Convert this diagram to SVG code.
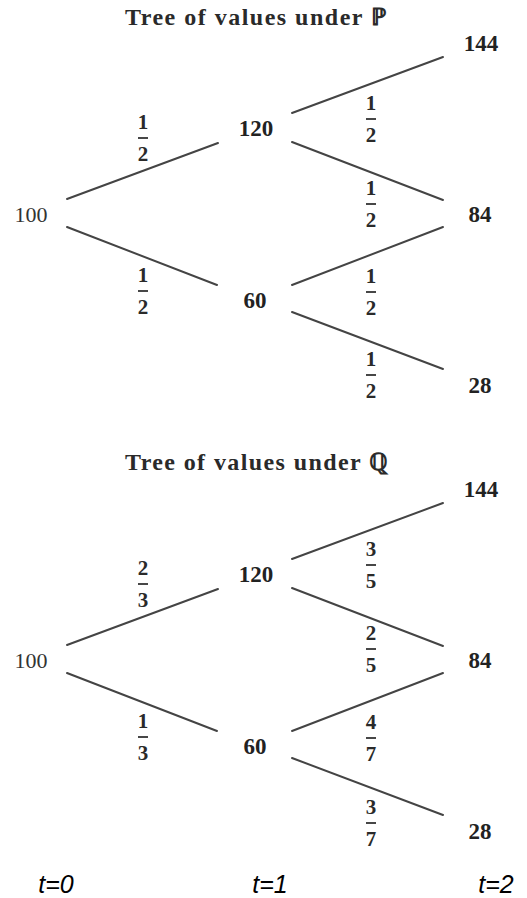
<svg xmlns="http://www.w3.org/2000/svg" width="527" height="898" viewBox="0 0 527 898">
<style>
.title{font-family:"Liberation Serif","DejaVu Serif",serif;font-weight:bold;font-size:24px;fill:#2a2a2a}
.node{font-family:"Liberation Serif","DejaVu Serif",serif;font-weight:bold;font-size:23px;fill:#222;text-anchor:middle}
.root{font-family:"Liberation Serif","DejaVu Serif",serif;font-size:22px;fill:#333;text-anchor:middle}
.frac{font-family:"Liberation Serif","DejaVu Serif",serif;font-weight:bold;font-size:21px;fill:#2a2a2a;text-anchor:middle}
.bar{stroke:#333;stroke-width:1.8}
.edge{stroke:#444;stroke-width:2;stroke-linecap:round;fill:none}
.time{font-family:"Liberation Sans","DejaVu Sans",sans-serif;font-style:italic;font-size:25px;fill:#000;text-anchor:middle}
</style>
<defs>
<g id="half">
<text class="frac" x="0" y="-9">1</text>
<line class="bar" x1="-5" y1="0" x2="5" y2="0"/>
<text class="frac" x="0" y="23">2</text>
</g>
</defs>

<g id="title-p"><text class="title" x="125" y="25" textLength="262" lengthAdjust="spacing">Tree of values under ℙ</text></g>
<g id="title-q"><text class="title" x="125" y="470" textLength="263" lengthAdjust="spacing">Tree of values under ℚ</text></g>

<g id="connectors">
<line class="edge" x1="67" y1="199" x2="218" y2="143"/>
<line class="edge" x1="67" y1="227" x2="217" y2="285"/>
<line class="edge" x1="292" y1="113" x2="443" y2="57"/>
<line class="edge" x1="292" y1="142" x2="443" y2="200"/>
<line class="edge" x1="292" y1="285" x2="443" y2="227"/>
<line class="edge" x1="292" y1="312" x2="443" y2="369"/>

<line class="edge" x1="67" y1="645" x2="218" y2="589"/>
<line class="edge" x1="67" y1="673" x2="217" y2="731"/>
<line class="edge" x1="292" y1="559" x2="443" y2="503"/>
<line class="edge" x1="292" y1="588" x2="443" y2="646"/>
<line class="edge" x1="292" y1="731" x2="443" y2="673"/>
<line class="edge" x1="292" y1="758" x2="443" y2="815"/>
</g>

<g id="edge-labels">
<use href="#half" x="143" y="138"/>
<use href="#half" x="371" y="119"/>
<use href="#half" x="371" y="204"/>
<use href="#half" x="143" y="291"/>
<use href="#half" x="371" y="292"/>
<use href="#half" x="371" y="375"/>

<g transform="translate(143,584)"><text class="frac" x="0" y="-9">2</text><line class="bar" x1="-5" y1="0" x2="5" y2="0"/><text class="frac" x="0" y="23">3</text></g>
<g transform="translate(371,565)"><text class="frac" x="0" y="-9">3</text><line class="bar" x1="-5" y1="0" x2="5" y2="0"/><text class="frac" x="0" y="23">5</text></g>
<g transform="translate(371,649)"><text class="frac" x="0" y="-9">2</text><line class="bar" x1="-5" y1="0" x2="5" y2="0"/><text class="frac" x="0" y="23">5</text></g>
<g transform="translate(143,737)"><text class="frac" x="0" y="-9">1</text><line class="bar" x1="-5" y1="0" x2="5" y2="0"/><text class="frac" x="0" y="23">3</text></g>
<g transform="translate(371,738)"><text class="frac" x="0" y="-9">4</text><line class="bar" x1="-5" y1="0" x2="5" y2="0"/><text class="frac" x="0" y="23">7</text></g>
<g transform="translate(371,823)"><text class="frac" x="0" y="-9">3</text><line class="bar" x1="-5" y1="0" x2="5" y2="0"/><text class="frac" x="0" y="23">7</text></g>
</g>

<g id="p-100"><text class="root" x="31" y="222">100</text></g>
<g id="p-120"><text class="node" x="256" y="136">120</text></g>
<g id="p-60"><text class="node" x="255" y="308">60</text></g>
<g id="p-144"><text class="node" x="481" y="51">144</text></g>
<g id="p-84"><text class="node" x="480" y="222">84</text></g>
<g id="p-28"><text class="node" x="480" y="393">28</text></g>

<g id="q-100"><text class="root" x="31" y="668">100</text></g>
<g id="q-120"><text class="node" x="256" y="582">120</text></g>
<g id="q-60"><text class="node" x="255" y="754">60</text></g>
<g id="q-144"><text class="node" x="481" y="497">144</text></g>
<g id="q-84"><text class="node" x="480" y="668">84</text></g>
<g id="q-28"><text class="node" x="480" y="839">28</text></g>

<g id="time-labels">
<text class="time" x="56" y="893">t=0</text>
<text class="time" x="270" y="893">t=1</text>
<text class="time" x="496" y="893">t=2</text>
</g>
</svg>
